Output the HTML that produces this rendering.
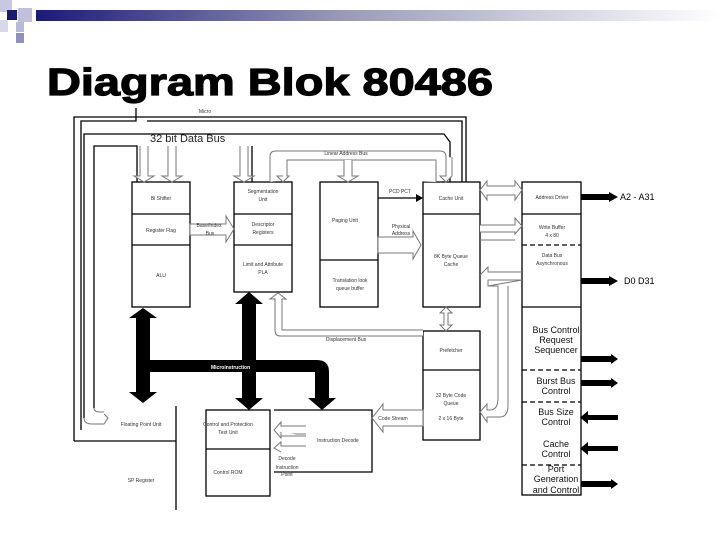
<!DOCTYPE html>
<html><head><meta charset="utf-8"><style>
html,body{margin:0;padding:0;background:#fff;width:720px;height:540px;overflow:hidden}
svg{display:block}
text{font-family:"Liberation Sans",sans-serif}
</style></head><body>
<svg width="720" height="540" viewBox="0 0 720 540" xmlns="http://www.w3.org/2000/svg">
<defs>
<linearGradient id="g" x1="0" x2="1"><stop offset="0" stop-color="#1a1a7a"/><stop offset="0.45" stop-color="#9a9ab8"/><stop offset="1" stop-color="#fff"/></linearGradient>
</defs>
<!-- header -->
<rect x="36" y="10" width="684" height="11" fill="url(#g)"/>
<rect x="0" y="0" width="12" height="12" fill="#c8c8e0"/>
<rect x="7" y="10" width="10" height="10" fill="#1a1a6e"/>
<rect x="18" y="8" width="14" height="14" fill="#c0c0dc"/>
<rect x="0" y="20" width="8" height="12" fill="#d8d8ea"/>
<rect x="16" y="22" width="8" height="10" fill="#b8b8d8"/>
<rect x="16" y="33" width="8" height="10" fill="#9090c0"/>
<text x="47" y="95" font-size="38" font-weight="bold" stroke="#000" stroke-width="1.2" textLength="446" lengthAdjust="spacingAndGlyphs">Diagram Blok  80486</text>

<g fill="none" stroke="#000" stroke-width="1.3">
<polyline points="74,441 74,117 466,117 466,182"/>
<polyline points="81,430 81,121 136,121 136,108"/>
<polyline points="147,121 462,121 462,182"/>
<polyline points="84,418 84,134 444,134 450,142 450,182"/>
<polyline points="94,408 94,146 137,146 137,182"/>
<polyline points="252,146 252,182"/>
<rect x="132" y="182" width="58" height="125"/>
<line x1="132" y1="214" x2="190" y2="214"/><line x1="132" y1="245" x2="190" y2="245"/>
<rect x="234" y="182" width="58" height="110"/>
<line x1="234" y1="214" x2="292" y2="214"/><line x1="234" y1="245" x2="292" y2="245"/>
<rect x="320" y="182" width="58" height="125"/>
<line x1="320" y1="260" x2="378" y2="260"/>
<rect x="423" y="182" width="57" height="125"/>
<line x1="423" y1="214" x2="480" y2="214"/>
<rect x="522" y="182" width="59" height="313"/>
<line x1="522" y1="214" x2="581" y2="214"/>
<line x1="522" y1="307" x2="581" y2="307"/>
<rect x="423" y="331" width="57" height="109"/>
<line x1="423" y1="370" x2="480" y2="370"/>
<rect x="206" y="410" width="64" height="86"/>
<line x1="206" y1="449" x2="270" y2="449"/>
<polyline points="274,410 372,410 372,472 274,472"/>
<polyline points="74,441 176,441"/><line x1="176" y1="406" x2="176" y2="510"/>
<line x1="378" y1="198" x2="416" y2="198"/>
</g>
<polygon points="416,194 423,198 416,202" fill="#000"/>
<g fill="none" stroke="#000" stroke-width="1.3" stroke-dasharray="5,3">
<line x1="522" y1="245" x2="581" y2="245"/>
<line x1="522" y1="370" x2="581" y2="370"/>
<line x1="522" y1="402" x2="581" y2="402"/>
<line x1="522" y1="465" x2="581" y2="465"/>
</g>

<g fill="#fff" stroke="#777" stroke-width="1">
<path d="M140,146 V176 H134 L144,182 L154,176 H148 V146"/>
<path d="M168,146 V176 H162 L172,182 L182,176 H176 V146"/>
<path d="M240,146 V176 H234 L244,182 L254,176 H248 V146"/>
<path d="M270,182 V156 Q270,151 276,151 H440 Q446,151 446,157 V176 L440,176 L446,182 L452,176 H452 V157"/>
<path d="M283,176 L277,176 L283,182 L289,176 H287 V160 H436 V182"/>
<path d="M344,160 V176 H338 L348,182 L358,176 H352 V160"/>
<path d="M190,224 H226 V216 L234,229 L226,242 V235 H190 Z"/>
<path d="M378,237 H413 V231 L421,245 L413,259 V253 H378 Z"/>
<path d="M480,190 L487,181 V186 H515 V181 L522,190 L515,200 V195 H487 V200 Z"/>
<path d="M480,225 H515 V218 L522,226 L515,234 V232 H480"/>
<path d="M480,240 H515"/>
<path d="M480,275 L488,267 V272 H522 M522,280 H488 V286 Z"/>
<path d="M488,286 H498 V398 Q498,410 490,410 H487 V404 L480,412 L487,422 V417 H500 Q508,417 508,405 V286"/>
<path d="M446,307 L440,313 H444 V325 H440 L446,331 L452,325 H448 V313 H452 Z"/>
<path d="M423,336 H280 Q275,336 275,330 V299 H270 L278,293 L286,299 H282 V330 H423"/>
<path d="M423,410 H383 V404 L372,418 L383,432 V426 H423 Z"/>
<path d="M306,426 H281 V422 L274,430 L281,438 V434 H306"/>
<path d="M306,436 H281 V432 M306,446 H281 V442 L274,448 L281,452"/>
<path d="M84,418 Q84,424 92,424 H104 L108,418 L104,414 M94,408 Q94,412 100,412 H104"/>
</g>

<g fill="#000">
<path d="M136,372 H315 V398 H308 L322,410 L336,398 H329 V372 Q329,360 317,360 H150 V318 H157 L143,308 L129,318 H136 V392 H129 L143,403 L157,392 H150 V372 Z M136,360 V372 H150 V360Z"/>
<path d="M242,304 H235 L249,292 L263,304 H256 V398 H263 L249,410 L235,398 H242 Z"/>
<rect x="581" y="194" width="28" height="6"/><polygon points="609,192 618,197 609,202"/>
<rect x="581" y="278" width="28" height="6"/><polygon points="609,276 618,281 609,286"/>
<rect x="581" y="356" width="30" height="6"/><polygon points="611,354 618,359 611,364"/>
<rect x="581" y="380" width="30" height="6"/><polygon points="611,378 618,383 611,388"/>
<rect x="588" y="415" width="30" height="5"/><polygon points="588,411 580,417.5 588,424"/>
<rect x="588" y="446" width="30" height="5"/><polygon points="588,442 580,448.5 588,455"/>
<rect x="581" y="481" width="30" height="6"/><polygon points="611,479 618,484 611,489"/>
</g>
<text x="211" y="369" font-size="5" fill="#fff" font-weight="bold">Microinstruction</text>

<g font-size="5" fill="#333" text-anchor="middle">
<text x="161" y="200">Bi Shifter</text>
<text x="161" y="232">Register Flag</text>
<text x="161" y="277">ALU</text>
<text x="263" y="193">Segmentation</text><text x="263" y="201">Unit</text>
<text x="263" y="226">Descriptor</text><text x="263" y="234">Registers</text>
<text x="263" y="266">Limit and Attribute</text><text x="263" y="274">PLA</text>
<text x="209" y="227">Base/Index</text><text x="210" y="235">Bus</text>
<text x="345" y="222">Paging Unit</text>
<text x="350" y="282">Translation look</text><text x="350" y="290">queue buffer</text>
<text x="400" y="193">PCD PCT</text>
<text x="401" y="228">Physical</text><text x="401" y="235">Address</text>
<text x="451" y="200">Cache Unit</text>
<text x="451" y="258">8K Byte Queue</text><text x="451" y="266">Cache</text>
<text x="552" y="199">Address Driver</text>
<text x="552" y="229">Write Buffer</text><text x="552" y="237">4 x 80</text>
<text x="552" y="257">Data Bus</text><text x="552" y="265">Asynchronous</text>
<text x="346" y="155">Linear Address Bus</text>
<text x="205" y="113">Micro</text>
<text x="346" y="341">Displacement Bus</text>
<text x="451" y="352">Prefetcher</text>
<text x="451" y="397">32 Byte Code</text><text x="451" y="405">Queue</text>
<text x="451" y="420">2 x 16 Byte</text>
<text x="393" y="420">Code Stream</text>
<text x="141" y="426">Floating Point Unit</text>
<text x="141" y="482">SP Register</text>
<text x="228" y="426">Control and Protection</text><text x="228" y="434">Test Unit</text>
<text x="228" y="474">Control ROM</text>
<text x="338" y="442">Instruction Decode</text>
<text x="287" y="460">Decode</text><text x="287" y="469">Instruction</text><text x="287" y="476">Point</text>
</g>
<g font-size="9" fill="#111" text-anchor="middle">
<text x="556" y="333">Bus Control</text><text x="556" y="343">Request</text><text x="556" y="353">Sequencer</text>
<text x="556" y="384">Burst Bus</text><text x="556" y="394">Control</text>
<text x="556" y="415">Bus Size</text><text x="556" y="425">Control</text>
<text x="556" y="447">Cache</text><text x="556" y="457">Control</text>
<text x="556" y="472">Port</text><text x="556" y="482">Generation</text><text x="556" y="493">and Control</text>
</g>
<text x="620" y="200" font-size="9">A2 - A31</text>
<text x="624" y="284" font-size="9">D0    D31</text>
<text x="150" y="142" font-size="11" fill="#222">32 bit Data Bus</text>
</svg>
</body></html>
